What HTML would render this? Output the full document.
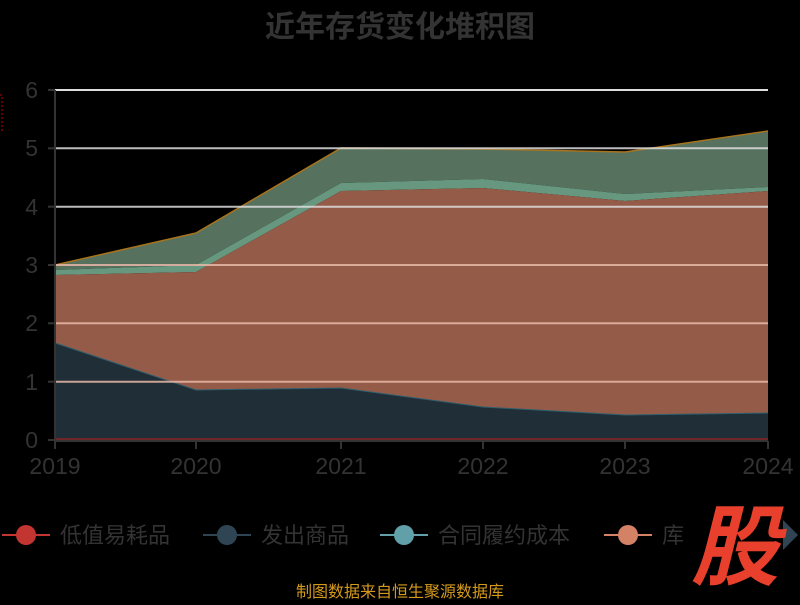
<!DOCTYPE html>
<html><head><meta charset="utf-8"><style>
body{margin:0;background:#000;width:800px;height:600px;overflow:hidden;font-family:"Liberation Sans","Noto Sans CJK SC",sans-serif}
</style></head><body>
<svg width="800" height="600" xmlns="http://www.w3.org/2000/svg" style="font-family:'Liberation Sans','Noto Sans CJK SC',sans-serif">
<rect width="800" height="600" fill="#000"/>
<text x="400" y="37" text-anchor="middle" font-size="30" font-weight="bold" fill="#333">近年存货变化堆积图</text>
<polygon points="55,265 196,233 341,148 483,149 625,152 768,131 768,187 625,194 483,179 341,183 196,265 55,270" fill="#56725e"/>
<polyline points="55,265 196,233 341,148 483,149 625,152 768,131" fill="none" stroke="#a8731c" stroke-width="1.5"/>
<polygon points="55,270 196,265 341,183 483,179 625,194 768,187 768,191 625,201 483,188 341,191 196,272 55,275" fill="#67987f"/>
<polygon points="55,275 196,272 341,191 483,188 625,201 768,191 768,413 625,415 483,407 341,388 196,390 55,343" fill="#945b48"/>
<polygon points="55,343 196,390 341,388 483,407 625,415 768,413 768,440 55,440" fill="#202e38"/>
<polyline points="55,343 196,390 341,388 483,407 625,415 768,413" fill="none" stroke="#2d5f6e" stroke-width="1"/>
<line x1="55" y1="439" x2="768" y2="439" stroke="#8b2424" stroke-width="1.5"/>
<g stroke-width="2">
<line x1="55" y1="90" x2="768" y2="90" stroke="#ddd"/>
<line x1="55" y1="148.3" x2="768" y2="148.3" stroke="#ddd" opacity="0.85"/>
<line x1="55" y1="206.7" x2="768" y2="206.7" stroke="#ddd" opacity="0.85"/>
<line x1="55" y1="265" x2="768" y2="265" stroke="#e8b8a8" opacity="0.85"/>
<line x1="55" y1="323.3" x2="768" y2="323.3" stroke="#e8b8a8" opacity="0.85"/>
<line x1="55" y1="381.7" x2="768" y2="381.7" stroke="#e8b8a8" opacity="0.85"/>
</g>
<line x1="55" y1="90" x2="55" y2="440" stroke="#333" stroke-width="2"/>
<line x1="55" y1="441" x2="768" y2="441" stroke="#333" stroke-width="2"/>
<g stroke="#333" stroke-width="2">
<line x1="48" y1="90" x2="55" y2="90"/><line x1="48" y1="148.3" x2="55" y2="148.3"/><line x1="48" y1="206.7" x2="55" y2="206.7"/><line x1="48" y1="265" x2="55" y2="265"/><line x1="48" y1="323.3" x2="55" y2="323.3"/><line x1="48" y1="381.7" x2="55" y2="381.7"/><line x1="48" y1="440" x2="55" y2="440"/>
<line x1="55" y1="441" x2="55" y2="449"/><line x1="196" y1="441" x2="196" y2="449"/><line x1="341" y1="441" x2="341" y2="449"/><line x1="483" y1="441" x2="483" y2="449"/><line x1="625" y1="441" x2="625" y2="449"/><line x1="768" y1="441" x2="768" y2="449"/>
</g>
<g font-size="23" fill="#333" text-anchor="end">
<text x="38" y="98">6</text><text x="38" y="156">5</text><text x="38" y="215">4</text><text x="38" y="273">3</text><text x="38" y="331">2</text><text x="38" y="390">1</text><text x="38" y="448">0</text>
</g>
<g font-size="23" fill="#333" text-anchor="middle">
<text x="55" y="474">2019</text><text x="196" y="474">2020</text><text x="341" y="474">2021</text><text x="483" y="474">2022</text><text x="625" y="474">2023</text><text x="768" y="474">2024</text>
</g>
<rect x="-4" y="95" width="6" height="36" fill="none" stroke="#c00" stroke-dasharray="2,2"/>
<g font-size="22" fill="#333">
<line x1="2" y1="535" x2="50" y2="535" stroke="#c23531" stroke-width="2"/><circle cx="26" cy="535" r="10" fill="#c23531"/>
<text x="60" y="543">低值易耗品</text>
<line x1="203" y1="535" x2="251" y2="535" stroke="#2f4554" stroke-width="2"/><circle cx="227" cy="535" r="10" fill="#2f4554"/>
<text x="261" y="543">发出商品</text>
<line x1="380" y1="535" x2="428" y2="535" stroke="#61a0a8" stroke-width="2"/><circle cx="404" cy="535" r="10" fill="#61a0a8"/>
<text x="438" y="543">合同履约成本</text>
<line x1="604" y1="535" x2="652" y2="535" stroke="#d48265" stroke-width="2"/><circle cx="628" cy="535" r="10" fill="#d48265"/>
<text x="662" y="543">库</text>
</g>
<polygon points="783,520 783,550 798,535" fill="#2f4554"/>
<text x="735" y="578" font-size="88" font-weight="bold" fill="#e8402c" text-anchor="middle" font-style="italic">股</text>
<text x="400" y="597" font-size="16" fill="#d49a1c" text-anchor="middle">制图数据来自恒生聚源数据库</text>
</svg>
</body></html>
